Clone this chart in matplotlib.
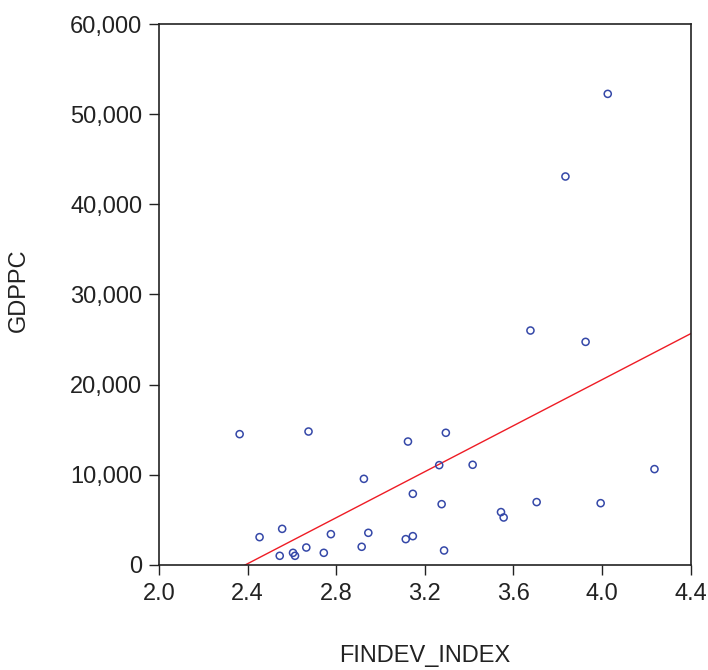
import matplotlib
matplotlib.use("Agg")
import matplotlib.pyplot as plt
from matplotlib.ticker import FuncFormatter

plt.rcParams['font.family'] = ['Liberation Sans', 'DejaVu Sans']

# FINDEV_INDEX vs GDPPC
findev = [2.364, 2.675, 3.124, 2.925, 3.146, 2.454, 2.556, 2.545, 2.605, 2.614,
          2.665, 2.744, 2.776, 2.915, 2.945, 3.114, 3.146, 3.295, 3.265, 3.416,
          4.237, 3.276, 3.544, 3.556, 3.705, 3.994, 3.287, 4.026, 3.835, 3.677,
          3.926]
gdppc = [14500, 14790, 13680, 9540, 7880, 3070, 3990, 1000, 1330, 1000,
         1920, 1330, 3400, 2000, 3550, 2850, 3180, 14650, 11060, 11100,
         10620, 6730, 5850, 5250, 6960, 6840, 1590, 52260, 43090, 26000,
         24740]

# fitted line (as drawn)
fit_intercept = -30500
fit_slope = 12760

x_ticks = [2.0, 2.4, 2.8, 3.2, 3.6, 4.0, 4.4]
y_ticks = [0, 10000, 20000, 30000, 40000, 50000, 60000]

fig = plt.figure(figsize=(7.08, 6.70), dpi=100)
ax = fig.add_axes([0.2246, 0.157, 0.7508, 0.807])

ax.scatter(findev, gdppc, s=26, facecolors='none', edgecolors='#3548a8',
           linewidths=1.1, zorder=3)

xs = [x_ticks[0], x_ticks[-1]]
ys = [fit_intercept + fit_slope * v for v in xs]
ax.plot(xs, ys, color='#ee1c25', lw=1.0, zorder=2)

ax.set_xlim(2.0, 4.4)
ax.set_ylim(0, 60000)
ax.set_xticks(x_ticks)
ax.set_yticks(y_ticks)
ax.xaxis.set_major_formatter(FuncFormatter(lambda v, p: f"{v:.1f}"))
ax.yaxis.set_major_formatter(FuncFormatter(lambda v, p: f"{int(v):,}"))
ax.tick_params(direction='out', length=7, width=1, labelsize=17,
               colors='#222222')
ax.tick_params(axis='x', pad=6)
ax.tick_params(axis='y', pad=5)
for s in ax.spines.values():
    s.set_linewidth(1.2)
    s.set_color('#222222')

ax.set_xlabel('FINDEV_INDEX', fontsize=17, color='#222222', va='center')
ax.xaxis.set_label_coords(0.5, -0.168)
ax.set_ylabel('GDPPC', fontsize=17, color='#222222', va='center')
ax.yaxis.set_label_coords(-0.264, 0.508)

fig.savefig('out.png', dpi=100)
